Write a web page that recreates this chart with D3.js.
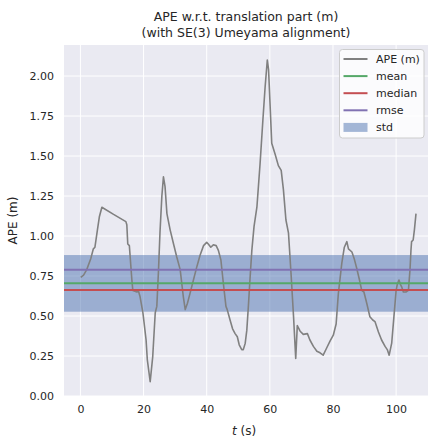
<!DOCTYPE html>
<html>
<head>
<meta charset="utf-8">
<script src="https://cdn.jsdelivr.net/npm/d3@7/dist/d3.min.js"></script>
<style>
  html, body { margin: 0; padding: 0; background: #ffffff; }
  svg { display: block; font-family: "DejaVu Sans", sans-serif; }
</style>
</head>
<body>
<svg id="chart" width="428" height="441"></svg>
<script>
// ---- data ----
const times = [0.1, 1.0, 2.0, 3.3, 4.1, 4.6, 5.4, 6.0, 6.8, 10.5, 14.4, 14.7, 15.0, 15.5, 16.3, 16.6, 17.9, 18.4, 18.9, 19.8,
  20.8, 21.2, 22.1, 22.9, 23.7, 24.2, 24.7, 25.2, 25.8, 26.3, 26.8, 27.4, 28.4, 29.5, 30.5, 31.6, 32.6, 33.2, 33.9, 34.7,
  35.8, 36.9, 37.9, 39.0, 40.0, 40.5, 41.3, 42.1, 43.0, 43.7, 44.5, 45.3, 46.1, 46.5, 47.4, 48.2, 49.0, 49.7, 50.3, 51.1,
  51.6, 52.2, 52.7, 53.2, 53.7, 54.3, 55.0, 55.9, 56.9, 57.8, 58.5, 59.2, 59.6, 60.1, 60.6, 61.7, 62.7, 63.6, 64.3, 65.1,
  65.9, 66.7, 67.5, 68.2, 68.7, 69.6, 70.6, 71.9, 72.7, 73.8, 74.9, 75.9, 76.9, 78.0, 79.1, 80.1, 81.0, 81.7, 82.8, 83.6,
  84.4, 84.9, 86.0, 86.7, 87.5, 88.4, 89.1, 89.8, 90.7, 91.7, 92.6, 93.3, 94.4, 95.4, 96.5, 97.2, 97.8, 98.6, 99.3, 100.0,
  100.4, 100.9, 101.3, 101.8, 102.3, 103.1, 103.9, 104.4, 104.7, 104.9, 105.4, 105.8, 106.3];
const ape = [0.742, 0.756, 0.79, 0.86, 0.92, 0.93, 1.04, 1.12, 1.18, 1.135, 1.09, 1.07, 0.95, 0.94, 0.725, 0.66, 0.65, 0.655, 0.62, 0.52,
  0.35, 0.225, 0.09, 0.245, 0.52, 0.56, 0.77, 1.02, 1.25, 1.37, 1.31, 1.14, 1.04, 0.95, 0.87, 0.79, 0.62, 0.54, 0.58, 0.64,
  0.725, 0.81, 0.88, 0.94, 0.96, 0.95, 0.93, 0.945, 0.94, 0.91, 0.85, 0.70, 0.56, 0.54, 0.475, 0.42, 0.39, 0.37, 0.32, 0.29,
  0.29, 0.33, 0.41, 0.56, 0.725, 0.91, 1.06, 1.18, 1.45, 1.725, 1.93, 2.10, 2.04, 1.81, 1.58, 1.51, 1.44, 1.41, 1.29, 1.10,
  1.02, 0.77, 0.50, 0.235, 0.44, 0.405, 0.385, 0.39, 0.35, 0.31, 0.28, 0.27, 0.255, 0.30, 0.345, 0.38, 0.45, 0.64, 0.83, 0.93,
  0.965, 0.92, 0.90, 0.86, 0.80, 0.725, 0.66, 0.65, 0.58, 0.495, 0.475, 0.465, 0.40, 0.35, 0.31, 0.29, 0.255, 0.33, 0.495, 0.66,
  0.70, 0.725, 0.70, 0.68, 0.65, 0.65, 0.66, 0.79, 0.91, 0.965, 0.975, 1.04, 1.14];
const statMean = 0.704;
const statMedian = 0.6625;
const statRmse = 0.789;
const statStd = 0.177;
const xTicks = [0, 20, 40, 60, 80, 100];
const yTicks = [0.00, 0.25, 0.50, 0.75, 1.00, 1.25, 1.50, 1.75, 2.00];
const legendLabels = ["APE (m)", "mean", "median", "rmse", "std"];

// ---- layout ----
const W = 428, H = 441;
const m = { left: 64, right: 0, top: 45, bottom: 45 };
const pw = W - m.left - m.right, ph = H - m.top - m.bottom;
const svg = d3.select("#chart");
const textColor = "#262626";

const x = d3.scaleLinear().domain([-5.2, 110.1]).range([m.left, m.left + pw]);
const y = d3.scaleLinear().domain([0, 2.194]).range([m.top + ph, m.top]);

// background
svg.append("rect").attr("x", m.left).attr("y", m.top).attr("width", pw).attr("height", ph).attr("fill", "#eaeaf2");

// axes (labels only) and white grid
const gx = svg.append("g").attr("transform", `translate(0,${m.top + ph})`)
  .call(d3.axisBottom(x).tickValues(xTicks).tickSize(0).tickPadding(9).tickFormat(d3.format("d")));
const gy = svg.append("g").attr("transform", `translate(${m.left},0)`)
  .call(d3.axisLeft(y).tickValues(yTicks).tickSize(0).tickPadding(10).tickFormat(d3.format(".2f")));
[gx, gy].forEach(g => {
  g.select(".domain").remove();
  g.selectAll("text").attr("fill", textColor).style("font-size", "11px").style("font-family", "DejaVu Sans");
});
svg.append("g").selectAll("line").data(xTicks).join("line")
  .attr("x1", d => x(d)).attr("x2", d => x(d)).attr("y1", m.top).attr("y2", m.top + ph)
  .attr("stroke", "#ffffff").attr("stroke-width", 1);
svg.append("g").selectAll("line").data(yTicks).join("line")
  .attr("x1", m.left).attr("x2", m.left + pw).attr("y1", d => y(d)).attr("y2", d => y(d))
  .attr("stroke", "#ffffff").attr("stroke-width", 1);

svg.append("clipPath").attr("id", "plotclip").append("rect")
  .attr("x", m.left).attr("y", m.top).attr("width", pw).attr("height", ph);
const plot = svg.append("g").attr("clip-path", "url(#plotclip)");

// std band (patch, below lines)
plot.append("rect").attr("x", m.left).attr("width", pw)
  .attr("y", y(statMean + statStd)).attr("height", y(statMean - statStd) - y(statMean + statStd))
  .attr("fill", "#4c72b0").attr("fill-opacity", 0.5);

// APE line
const lineData = times.map((t, i) => [t, ape[i]]);
plot.append("path").datum(lineData)
  .attr("d", d3.line().x(d => x(d[0])).y(d => y(d[1])))
  .attr("fill", "none").attr("stroke", "#808080").attr("stroke-width", 1.6).attr("stroke-linejoin", "round");

// stat lines
const statLines = [[statMean, "#55a868"], [statMedian, "#c44e52"], [statRmse, "#8172b2"]];
plot.selectAll("line.stat").data(statLines).join("line").attr("class", "stat")
  .attr("x1", m.left).attr("x2", m.left + pw).attr("y1", d => y(d[0])).attr("y2", d => y(d[0]))
  .attr("stroke", d => d[1]).attr("stroke-width", 2);

// title
svg.append("text").attr("x", m.left + pw / 2).attr("y", 21).attr("text-anchor", "middle")
  .attr("fill", textColor).style("font-size", "12.5px").text("APE w.r.t. translation part (m)");
svg.append("text").attr("x", m.left + pw / 2).attr("y", 37).attr("text-anchor", "middle")
  .attr("fill", textColor).style("font-size", "12.5px").text("(with SE(3) Umeyama alignment)");

// axis labels
const xl = svg.append("text").attr("x", m.left + pw / 2 - 2).attr("y", 435).attr("text-anchor", "middle")
  .attr("fill", textColor).style("font-size", "12px");
xl.append("tspan").style("font-style", "italic").text("t");
xl.append("tspan").text(" (s)");
svg.append("text").attr("transform", `translate(17,${m.top + ph / 2}) rotate(-90)`).attr("text-anchor", "middle")
  .attr("fill", textColor).style("font-size", "12px").text("APE (m)");

// legend
const lg = svg.append("g");
lg.append("rect").attr("x", 339.5).attr("y", 49.5).attr("width", 84.5).attr("height", 88.5).attr("rx", 3)
  .attr("fill", "#ffffff").attr("fill-opacity", 0.8).attr("stroke", "#cccccc").attr("stroke-width", 1);
const legendColors = ["#808080", "#55a868", "#c44e52", "#8172b2", "#4c72b0"];
legendLabels.forEach((lab, i) => {
  const yy = 59 + i * 17.1;
  if (i < 4) {
    lg.append("line").attr("x1", 343.5).attr("x2", 367.5).attr("y1", yy).attr("y2", yy)
      .attr("stroke", legendColors[i]).attr("stroke-width", 2);
  } else {
    lg.append("rect").attr("x", 343.5).attr("y", yy - 4.5).attr("width", 24).attr("height", 9)
      .attr("fill", legendColors[i]).attr("fill-opacity", 0.5);
  }
  lg.append("text").attr("x", 376).attr("y", yy + 4).attr("fill", textColor).style("font-size", "11px").text(lab);
});
</script>
</body>
</html>
